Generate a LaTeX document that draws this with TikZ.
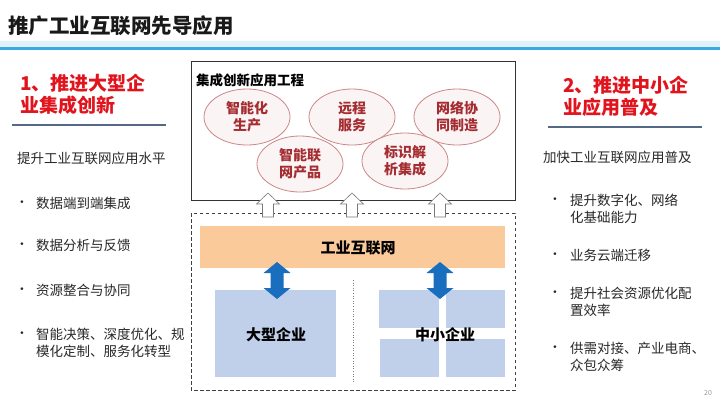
\documentclass[tikz,border=0pt]{standalone}
\usepackage{fontspec}
\setmainfont{Noto Sans CJK SC}
\newfontfamily\bulletfont{DejaVu Sans}
\usetikzlibrary{shapes.geometric}
\definecolor{titleblue}{RGB}{60,170,225}
\definecolor{paleblue}{RGB}{225,242,252}
\definecolor{headred}{RGB}{225,20,30}
\definecolor{sepcol}{RGB}{85,105,135}
\definecolor{bodytext}{RGB}{40,40,40}
\definecolor{bubbleline}{RGB}{205,135,135}
\definecolor{bubblefill}{RGB}{250,244,244}
\definecolor{bubbletext}{RGB}{165,45,50}
\definecolor{barorange}{RGB}{250,202,155}
\definecolor{entblue}{RGB}{192,208,234}
\definecolor{arrowblue}{RGB}{25,110,190}
\definecolor{hollowline}{RGB}{120,120,120}
\begin{document}
\begin{tikzpicture}[x=1pt,y=-1pt,
  body/.style={font=\fontsize{13.5}{17}\selectfont, text=bodytext, anchor=west, inner sep=0pt, align=left},
  bul/.style={font=\bulletfont\fontsize{9}{9}\selectfont, text=bodytext, anchor=center, inner sep=0pt},
  redhead/.style={font=\bfseries\fontsize{19}{22}\selectfont, text=headred, anchor=west, inner sep=0pt, align=left},
  bubble/.style={ellipse, draw=bubbleline, line width=0.8pt, fill=bubblefill, minimum width=86pt, minimum height=56pt, inner sep=0pt, align=center, font=\bfseries\fontsize{14}{17}\selectfont, text=bubbletext},
  entbox/.style={fill=entblue, draw=none},
  hollow/.style={fill=white, draw=hollowline, line width=0.6pt},
  dblarrow/.style={fill=arrowblue, draw=none},
  boldlabel/.style={font=\bfseries\fontsize{15}{17}\selectfont, text=black, inner sep=0pt}
]
\fill[white] (0,0) rectangle (720,405);
\useasboundingbox (0,0) rectangle (720,405);

% title
\fill[paleblue] (0,41) rectangle (720,47);
\draw[titleblue, line width=2.6pt] (0,48.5) -- (720,48.5);
\node[anchor=west, inner sep=0pt, font=\bfseries\fontsize{20.5}{22}\selectfont, text=black!90] (title) at (8,26) {推广工业互联网先导应用};

% left column
\node[redhead] (lhead) at (20,94) {1、推进大型企\\业集成创新};
\coordinate (lsepA) at (12,125);
\coordinate (lsepB) at (166,125);
\draw[sepcol, line width=1.2pt] (lsepA) -- (lsepB);
\node[body] (lsub) at (17,158) {提升工业互联网应用水平};
\node[bul] (lb1) at (22,203) {•};
\node[body] (lt1) at (36,203) {数据端到端集成};
\node[bul] (lb2) at (22,245) {•};
\node[body] (lt2) at (36,245) {数据分析与反馈};
\node[bul] (lb3) at (22,290) {•};
\node[body] (lt3) at (36,290) {资源整合与协同};
\node[bul] (lb4) at (22,334) {•};
\node[body] (lt4) at (36,342.5) {智能决策、深度优化、规\\模化定制、服务化转型};

% right column
\node[redhead] (rhead) at (563,96) {2、推进中小企\\业应用普及};
\coordinate (rsepA) at (548,127);
\coordinate (rsepB) at (702,127);
\draw[sepcol, line width=1.2pt] (rsepA) -- (rsepB);
\node[body] (rsub) at (543,157) {加快工业互联网应用普及};
\node[bul] (rb1) at (555,200) {•};
\node[body] (rt1) at (570,208.5) {提升数字化、网络\\化基础能力};
\node[bul] (rb2) at (555,255) {•};
\node[body] (rt2) at (570,255) {业务云端迁移};
\node[bul] (rb3) at (555,293) {•};
\node[body] (rt3) at (570,301.5) {提升社会资源优化配\\置效率};
\node[bul] (rb4) at (555,348) {•};
\node[body] (rt4) at (570,356.5) {供需对接、产业电商、\\众包众筹};
\node[font=\fontsize{7}{8}\selectfont, text=black!40, inner sep=0pt] (pagenum) at (708,393) {20};

% top box
\draw[black!80, line width=1pt, fill=white] (191,61) rectangle (515,200);
\node[anchor=west, inner sep=0pt, font=\bfseries\fontsize{13.5}{15}\selectfont, text=black] (boxtitle) at (196,80) {集成创新应用工程};
\node[bubble] (e1) at (247,117) {智能化\\生产};
\node[bubble] (e2) at (352,117) {远程\\服务};
\node[bubble] (e3) at (457,117) {网络协\\同制造};
\node[bubble] (e4) at (300,164) {智能联\\网产品};
\node[bubble] (e5) at (405,161) {标识解\\析集成};

% bottom dashed box
\draw[black!75, line width=0.9pt, dash pattern=on 3.5pt off 2.5pt] (191,213) rectangle (515,390);
\fill[barorange] (200,226) rectangle (505,268);
\node[boldlabel] (iiot) at (358,248) {工业互联网};
\draw[black!50, line width=0.6pt, dotted] (353,280) -- (353,384);
\fill[entbox] (215,290) rectangle (336,377);
\node[boldlabel] (big) at (276,335) {大型企业};
\fill[entbox] (379,290) rectangle (439,328);
\fill[entbox] (446,290) rectangle (505,328);
\fill[entbox] (380,339) rectangle (439,377);
\fill[entbox] (446,339) rectangle (505,377);
\node[boldlabel] (small) at (445,335) {中小企业};

% blue double arrows
\foreach \cx in {277,440}{
  \fill[arrowblue] (\cx,262) -- (\cx+13.5,273) -- (\cx+6.5,273) -- (\cx+6.5,288) -- (\cx+13.5,288)
    -- (\cx,299) -- (\cx-13.5,288) -- (\cx-6.5,288) -- (\cx-6.5,273) -- (\cx-13.5,273) -- cycle;
}

% hollow up arrows
\foreach \cx in {268,352,440}{
  \draw[hollow] (\cx,193) -- (\cx+11.5,204) -- (\cx+5.5,204) -- (\cx+5.5,217) -- (\cx-5.5,217)
    -- (\cx-5.5,204) -- (\cx-11.5,204) -- cycle;
}
\end{tikzpicture}
\end{document}
